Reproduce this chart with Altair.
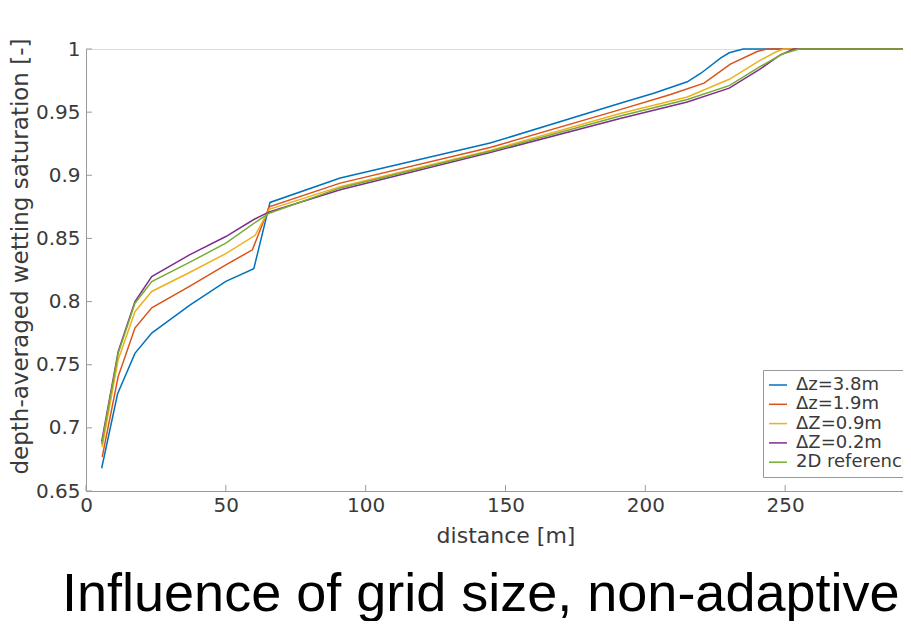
import altair as alt
import pandas as pd

# ---- data ----
series_names = ["Δz=3.8m", "Δz=1.9m", "ΔZ=0.9m", "ΔZ=0.2m", "2D reference"]
series_colors = ["#0072BD", "#D95319", "#EDB120", "#7E2F8E", "#77AC30"]

dz38_x = [5.6, 11.3, 17.5, 23.5, 37, 50, 60, 65.8, 90.9, 144.5, 191, 203, 215, 220, 227, 230, 235, 300]
dz38_s = [0.668, 0.727, 0.759, 0.775, 0.797, 0.816, 0.826, 0.8785, 0.8978, 0.9255, 0.957, 0.965, 0.974, 0.981, 0.993, 0.997, 1.0, 1.0]

dz19_x = [5.8, 11.5, 17.5, 23.5, 37, 50, 59.5, 65.5, 90.9, 144.5, 191, 209, 221, 230.4, 240, 243.5, 300]
dz19_s = [0.677, 0.7406, 0.779, 0.795, 0.812, 0.829, 0.841, 0.875, 0.8938, 0.922, 0.952, 0.964, 0.973, 0.988, 0.998, 1.0, 1.0]

dz09_x = [5.8, 11.5, 17.5, 23.5, 37, 50, 60.5, 65.5, 90.9, 144.5, 191, 215, 230, 241, 247, 249.5, 300]
dz09_s = [0.685, 0.754, 0.792, 0.808, 0.823, 0.838, 0.8525, 0.873, 0.891, 0.9197, 0.949, 0.962, 0.976, 0.991, 0.998, 1.0, 1.0]

dz02_x = [5.6, 11.5, 17.5, 23.5, 37, 50, 60, 65.5, 90.9, 144.5, 191, 215, 230, 241, 248, 253, 300]
dz02_s = [0.689, 0.7604, 0.80, 0.8198, 0.837, 0.8515, 0.865, 0.871, 0.8885, 0.918, 0.945, 0.958, 0.969, 0.984, 0.995, 1.0, 1.0]

ref2d_x = [5.6, 11.5, 17.5, 23.5, 37, 50, 61, 65.5, 90.9, 144.5, 191, 215, 230, 241, 249, 255, 300]
ref2d_s = [0.687, 0.759, 0.7987, 0.8159, 0.831, 0.8463, 0.8634, 0.870, 0.890, 0.919, 0.947, 0.960, 0.971, 0.986, 0.996, 1.0, 1.0]

x_ticks = [0, 50, 100, 150, 200, 250, 300]
y_ticks = [0.65, 0.7, 0.75, 0.8, 0.85, 0.9, 0.95, 1.0]

title_text = "Influence of grid size, non-adaptive"

# ---- build table ----
rows = []
for name, xs, ss in zip(series_names,
                        [dz38_x, dz19_x, dz09_x, dz02_x, ref2d_x],
                        [dz38_s, dz19_s, dz09_s, dz02_s, ref2d_s]):
    for i, (xv, sv) in enumerate(zip(xs, ss)):
        rows.append({"series": name, "x": xv, "s": sv, "i": i})
df = pd.DataFrame(rows)

PLOT_H = 442
FONT = "DejaVu Sans"
AX_COL = "#9a9a9a"
TXT_COL = "#3a3a3a"

x_scale = alt.Scale(domain=[0, 300], range=[0, 839], nice=False)
y_scale = alt.Scale(domain=[0.65, 1.0], nice=False, zero=False)

lines = alt.Chart(df).mark_line(strokeWidth=1.5, clip=False).encode(
    x=alt.X("x:Q", scale=x_scale,
            axis=alt.Axis(values=x_ticks, title="distance [m]", grid=False,
                          ticks=False, tickSize=0, labelPadding=4,
                          labelFont=FONT, labelFontSize=20, labelColor=TXT_COL,
                          titleFont=FONT, titleFontSize=22, titleColor=TXT_COL,
                          titleFontWeight="normal", titlePadding=10,
                          domainColor=AX_COL, labelFlush=False)),
    y=alt.Y("s:Q", scale=y_scale,
            axis=alt.Axis(values=y_ticks, format="~g",
                          title="depth-averaged wetting saturation [-]", grid=False,
                          ticks=False, tickSize=0, labelPadding=6,
                          labelFont=FONT, labelFontSize=20, labelColor=TXT_COL,
                          titleFont=FONT, titleFontSize=23, titleColor=TXT_COL,
                          titleFontWeight="normal", titlePadding=3, titleY=207,
                          domainColor=AX_COL, labelFlush=False)),
    color=alt.Color("series:N",
                    scale=alt.Scale(domain=series_names, range=series_colors),
                    legend=alt.Legend(title=None, orient="none", legendX=677, legendY=321,
                                      symbolType="stroke", symbolSize=324,
                                      symbolStrokeWidth=1.5, labelFont=FONT,
                                      labelFontSize=18, labelColor=TXT_COL,
                                      strokeColor="#999999", fillColor="white",
                                      padding=5, rowPadding=0.3, labelOffset=8)),
    order="i:Q",
)

xt_df = pd.DataFrame({"x": x_ticks})
yt_df = pd.DataFrame({"s": y_ticks})

x_tick_marks = alt.Chart(xt_df).mark_rule(color=AX_COL, strokeWidth=1).encode(
    x=alt.X("x:Q", scale=x_scale),
    y=alt.value(PLOT_H),
    y2=alt.value(PLOT_H - 6),
)
y_tick_marks = alt.Chart(yt_df).mark_rule(color=AX_COL, strokeWidth=1).encode(
    y=alt.Y("s:Q", scale=y_scale),
    x=alt.value(0),
    x2=alt.value(6),
)

chart = alt.layer(x_tick_marks, y_tick_marks, lines).properties(
    width=817,
    height=PLOT_H,
    title=alt.TitleParams(title_text, orient="bottom", anchor="start", frame="group",
                          dx=-24, offset=22, font="Liberation Sans", fontSize=54,
                          fontWeight="normal", color="black"),
    autosize=alt.AutoSizeParams(type="none"),
    padding={"left": 78, "top": 41, "right": 0, "bottom": 130},
).configure_view(stroke=None).configure(background="white")

chart.save("out.html", embed_options={"renderer": "svg", "actions": False})
